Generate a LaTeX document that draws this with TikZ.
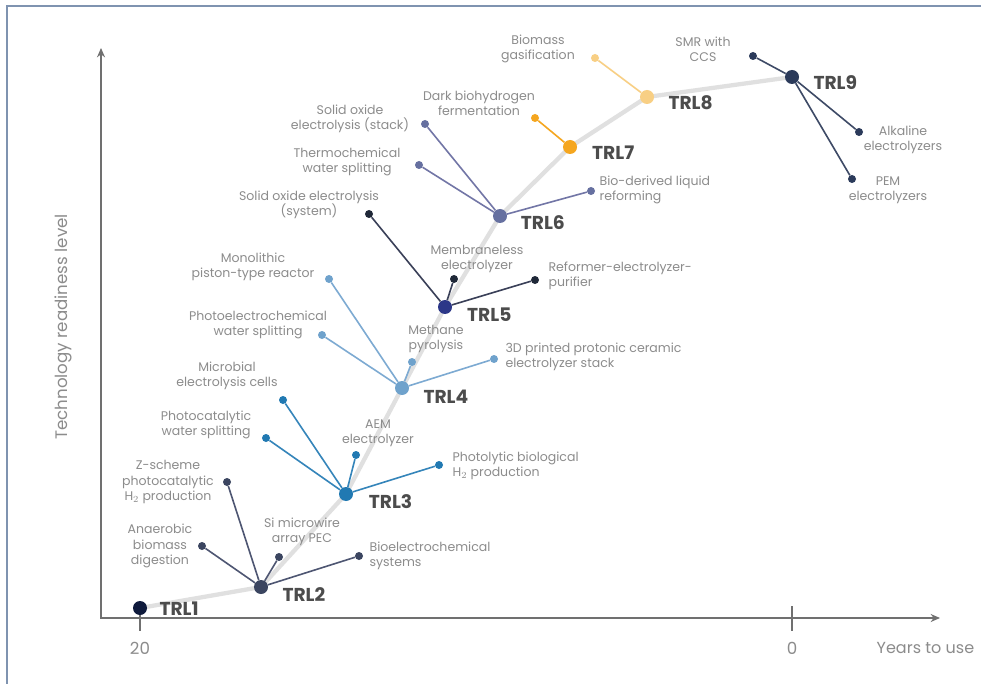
\documentclass[tikz,border=0pt]{standalone}
\usepackage{fontspec}
\setmainfont{Poppins}
\usetikzlibrary{positioning,arrows.meta,backgrounds}
\definecolor{axisgray}{HTML}{707070}
\definecolor{textgray}{HTML}{8C8C8C}
\definecolor{trlgray}{HTML}{4C4C4C}
\definecolor{spinegray}{HTML}{E0E0E0}
\definecolor{framegray}{HTML}{7F93B0}
\definecolor{cOne}{HTML}{0F1A3C}
\definecolor{cTwo}{HTML}{3B4560}
\definecolor{cTwoL}{HTML}{4E5672}
\definecolor{cThree}{HTML}{2179B2}
\definecolor{cThreeL}{HTML}{3585BA}
\definecolor{cFour}{HTML}{6FA2CC}
\definecolor{cFourL}{HTML}{7DAAD2}
\definecolor{cFive}{HTML}{2C3788}
\definecolor{cFiveD}{HTML}{1F2838}
\definecolor{cFiveL}{HTML}{3A4058}
\definecolor{cSix}{HTML}{6670A0}
\definecolor{cSixL}{HTML}{7276A6}
\definecolor{cSeven}{HTML}{F5A61F}
\definecolor{cEight}{HTML}{F8CF84}
\definecolor{cNine}{HTML}{2B3A5A}
\definecolor{cNineL}{HTML}{3E4A66}

\begin{document}
\begin{tikzpicture}[x=0.75pt, y=-0.75pt, >=Stealth,
    trl/.style={circle, inner sep=0pt, minimum size=10.5pt},
    leaf/.style={circle, inner sep=0pt, minimum size=6pt},
    trltext/.style={font=\fontsize{14}{16}\selectfont\bfseries, text=trlgray, inner sep=0pt},
    desc/.style={font=\fontsize{9.4}{11.4}\selectfont, text=textgray, align=center, inner sep=1pt},
    descl/.style={desc, align=left},
    twig/.style={line width=1.2pt},
    axis/.style={axisgray, line width=1.4pt},
    axtext/.style={font=\fontsize{12.5}{14}\selectfont, text=textgray}]
    \useasboundingbox (0,0) rectangle (981,684);

    % frame and axes
    \coordinate (fa) at (7,684);
    \coordinate (fb) at (7,6);
    \coordinate (fc) at (981,6);
    \draw[framegray, line width=2.2pt] (fa) -- (fb) -- (fc);
    \coordinate (ytip) at (101,48);
    \coordinate (xtip) at (940,618);
    \draw[axis, {Stealth[length=7pt,width=6pt]}-{Stealth[length=7pt,width=6pt]}] (ytip) |- (xtip);
    \node[axtext, rotate=90] (ylab) at (63,327) {Technology readiness level};

    % TRL levels
    \node[trl, fill=cOne] (t1) at (140,608) {};
    \node[trl, fill=cTwo] (t2) at (261,587) {};
    \node[trl, fill=cThree] (t3) at (346,494) {};
    \node[trl, fill=cFour] (t4) at (402,388) {};
    \node[trl, fill=cFive] (t5) at (445,307) {};
    \node[trl, fill=cSix] (t6) at (500,216) {};
    \node[trl, fill=cSeven] (t7) at (570,147) {};
    \node[trl, fill=cEight] (t8) at (647,97) {};
    \node[trl, fill=cNine] (t9) at (792,77) {};
    \node[trltext, right=9pt of t1, yshift=-0.8pt] (l1) {TRL1};
    \node[trltext, right=10.5pt of t2, yshift=-6pt] (l2) {TRL2};
    \node[trltext, right=11.5pt of t3, yshift=-6pt] (l3) {TRL3};
    \node[trltext, right=10.5pt of t4, yshift=-6.5pt] (l4) {TRL4};
    \node[trltext, right=11pt of t5, yshift=-6pt] (l5) {TRL5};
    \node[trltext, right=10pt of t6, yshift=-5pt] (l6) {TRL6};
    \node[trltext, right=11pt of t7, yshift=-4pt] (l7) {TRL7};
    \node[trltext, right=10.5pt of t8, yshift=-4pt] (l8) {TRL8};
    \node[trltext, right=10.5pt of t9, yshift=-4pt] (l9) {TRL9};
    \begin{scope}[on background layer]
        \fill[white] (0,0) rectangle (981,684);
        \draw[spinegray, line width=3.2pt, line cap=round] (t1.center) -- (t2.center) -- (t3.center) -- (t4.center)
            -- (t5.center) -- (t6.center) -- (t7.center) -- (t8.center) -- (t9.center);
    \end{scope}

    % years axis ticks
    \coordinate (k20) at (140,631);
    \coordinate (k0a) at (792,606);
    \coordinate (k0b) at (792,631);
    \draw[axis] (t1) -- (k20);
    \draw[axis] (k0a) -- (k0b);
    \node[axtext] (n20) at (140,648) {20};
    \node[axtext] (n0) at (792,648) {0};
    \node[axtext, anchor=west, font=\fontsize{12}{14}\selectfont] (nyrs) at (872,648) {Years to use};

    % TRL2
    \node[leaf, fill=cTwo] (ana) at (202,546) {};
    \node[desc] (ana-t) at (160,546) {Anaerobic\\biomass\\digestion};
    \node[leaf, fill=cTwo] (zsc) at (227,482) {};
    \node[desc] (zsc-t) at (168,482) {Z-scheme\\photocatalytic\\H$_2$ production};
    \node[leaf, fill=cTwo] (siw) at (279,557) {};
    \node[desc] (siw-t) at (302,532) {Si microwire\\array PEC};
    \node[leaf, fill=cTwo] (bec) at (359,556) {};
    \node[descl, anchor=west] (bec-t) at (368,556) {Bioelectrochemical\\systems};
    \draw[twig, cTwoL] (t2) -- (ana);
    \draw[twig, cTwoL] (t2) -- (zsc);
    \draw[twig, cTwoL] (t2) -- (siw);
    \draw[twig, cTwoL] (t2) -- (bec);

    % TRL3
    \node[leaf, fill=cThree] (pcw) at (266,438) {};
    \node[desc] (pcw-t) at (206,425) {Photocatalytic\\water splitting};
    \node[leaf, fill=cThree] (mec) at (283,400) {};
    \node[desc] (mec-t) at (227,376) {Microbial\\electrolysis cells};
    \node[leaf, fill=cThree] (aem) at (356,455) {};
    \node[desc] (aem-t) at (378,433) {AEM\\electrolyzer};
    \node[leaf, fill=cThree] (plb) at (439,465) {};
    \node[descl, anchor=west] (plb-t) at (451,466) {Photolytic biological\\H$_2$ production};
    \draw[twig, cThreeL] (t3) -- (pcw);
    \draw[twig, cThreeL] (t3) -- (mec);
    \draw[twig, cThreeL] (t3) -- (aem);
    \draw[twig, cThreeL] (t3) -- (plb);

    % TRL4
    \node[leaf, fill=cFour] (pec) at (322,335) {};
    \node[desc] (pec-t) at (258,325) {Photoelectrochemical\\water splitting};
    \node[leaf, fill=cFour] (mpr) at (329,279) {};
    \node[desc] (mpr-t) at (253,267) {Monolithic\\piston-type reactor};
    \node[leaf, fill=cFour] (mpy) at (412,362) {};
    \node[desc] (mpy-t) at (436,339) {Methane\\pyrolysis};
    \node[leaf, fill=cFour] (pcs) at (494,359) {};
    \node[descl, anchor=west] (pcs-t) at (504,357) {3D printed protonic ceramic\\electrolyzer stack};
    \draw[twig, cFourL] (t4) -- (pec);
    \draw[twig, cFourL] (t4) -- (mpr);
    \draw[twig, cFourL] (t4) -- (mpy);
    \draw[twig, cFourL] (t4) -- (pcs);

    % TRL5
    \node[leaf, fill=cFiveD] (sos) at (369,214) {};
    \node[desc] (sos-t) at (309,205) {Solid oxide electrolysis\\(system)};
    \node[leaf, fill=cFiveD] (mle) at (454,279) {};
    \node[desc] (mle-t) at (477,259) {Membraneless\\electrolyzer};
    \node[leaf, fill=cFiveD] (rep) at (535,280) {};
    \node[descl, anchor=west] (rep-t) at (547,276) {Reformer-electrolyzer-\\purifier};
    \draw[twig, cFiveL] (t5) -- (sos);
    \draw[twig, cFiveL] (t5) -- (mle);
    \draw[twig, cFiveL] (t5) -- (rep);

    % TRL6
    \node[leaf, fill=cSix] (sox) at (425,124) {};
    \node[desc] (sox-t) at (350,119) {Solid oxide\\electrolysis (stack)};
    \node[leaf, fill=cSix] (tws) at (419,165) {};
    \node[desc] (tws-t) at (347,162) {Thermochemical\\water splitting};
    \node[leaf, fill=cSix] (bdl) at (591,191) {};
    \node[descl, anchor=west] (bdl-t) at (598,190) {Bio-derived liquid\\reforming};
    \draw[twig, cSixL] (t6) -- (sox);
    \draw[twig, cSixL] (t6) -- (tws);
    \draw[twig, cSixL] (t6) -- (bdl);

    % TRL7 and TRL8
    \node[leaf, fill=cSeven] (dbf) at (535,118) {};
    \node[desc] (dbf-t) at (479,103) {Dark biohydrogen\\fermentation};
    \node[leaf, fill=cEight] (bmg) at (595,58) {};
    \node[desc] (bmg-t) at (538,49) {Biomass\\gasification};
    \draw[twig, cSeven] (t7) -- (dbf);
    \draw[twig, cEight] (t8) -- (bmg);

    % TRL9
    \node[leaf, fill=cNine] (smr) at (753,56) {};
    \node[desc] (smr-t) at (703,49) {SMR with\\CCS};
    \node[leaf, fill=cNine] (alk) at (859,132) {};
    \node[desc] (alk-t) at (903,140) {Alkaline\\electrolyzers};
    \node[leaf, fill=cNine] (pem) at (852,179) {};
    \node[desc] (pem-t) at (888,190) {PEM\\electrolyzers};
    \draw[twig, cNineL] (t9) -- (smr);
    \draw[twig, cNineL] (t9) -- (alk);
    \draw[twig, cNineL] (t9) -- (pem);
\end{tikzpicture}
\end{document}
